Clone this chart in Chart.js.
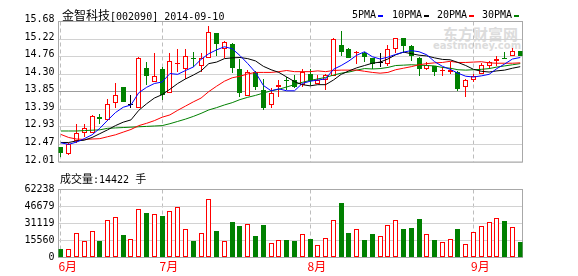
<!DOCTYPE html>
<html lang="zh-CN">
<head>
<meta charset="utf-8">
<title>金智科技[002090] 日K线</title>
<script src="https://cdn.jsdelivr.net/npm/chart.js@4.4.1/dist/chart.umd.min.js"></script>
<style>
  html, body { margin: 0; padding: 0; background: #fff; }
  #stage { position: relative; width: 578px; height: 276px; overflow: hidden; color: #000; }
  .abs { position: absolute; white-space: nowrap; line-height: 12px; }
  .cjk { font-family: "Noto Sans CJK SC", sans-serif; }
  .mono { font-family: "DejaVu Sans Mono", monospace; font-size: 10px; }
  .mark { display: inline-block; width: 5px; height: 2px; margin-left: 2px; vertical-align: 1px; }
  .wm { color: #dcdcdc; font-weight: bold; }
  canvas { position: absolute; left: 0; }
  #priceCanvas { top: 0; }
  #volCanvas { top: 172px; }
</style>
</head>
<body>
<div id="stage">
  <div class="abs wm cjk" style="left:443px; top:26px; font-size:15px; line-height:15px;">东方财富网</div>
  <div class="abs wm" style="left:433px; top:40px; font-size:10px; font-family:'DejaVu Sans', sans-serif;">eastmoney.com</div>

  <canvas id="priceCanvas" width="578" height="172"></canvas>
  <canvas id="volCanvas" width="578" height="104"></canvas>

  <div class="abs" style="left:62px; top:9px;"><span class="cjk" style="font-size:12px;">金智科技</span><span class="mono">[002090] 2014-09-10</span></div>

  <div class="abs mono" style="left:352px; top:9px;">5PMA<span class="mark" style="background:#0000ff"></span></div>
  <div class="abs mono" style="left:392px; top:9px;">10PMA<span class="mark" style="background:#000000"></span></div>
  <div class="abs mono" style="left:437px; top:9px;">20PMA<span class="mark" style="background:#ff0000"></span></div>
  <div class="abs mono" style="left:482px; top:9px;">30PMA<span class="mark" style="background:#008000"></span></div>

  <div class="abs" id="volHeader" style="left:60px; top:172px;"></div>
</div>

<script>
// Daily candles, oldest first
const open = [12.39,12.21,12.56,12.78,12.78,13.19,13.10,13.55,13.97,13.50,
              13.42,14.47,14.10,14.45,13.81,14.56,14.45,14.73,14.51,14.73,
              15.38,14.96,15.09,14.45,13.74,14.36,13.88,13.50,13.96,14.14,
              14.15,14.02,14.30,14.05,14.15,14.26,15.07,14.96,14.86,14.87,
              14.72,14.59,14.58,14.96,15.24,15.03,14.73,14.43,14.51,14.39,
              14.36,14.36,13.96,14.15,14.32,14.53,14.64,14.73,14.79,14.90];
const high = [12.41,12.50,12.99,12.99,13.24,13.26,13.66,14.07,13.98,13.77,
              14.75,14.61,14.85,14.48,14.85,14.96,14.96,14.89,14.87,15.57,
              15.38,15.17,15.11,14.70,14.41,14.38,14.18,13.94,14.14,14.23,
              14.28,14.45,14.45,14.28,14.31,15.24,15.44,14.98,14.90,14.88,
              14.73,14.85,15.06,15.26,15.24,15.07,14.75,14.62,14.53,14.49,
              14.62,14.38,14.17,14.30,14.59,14.66,14.79,14.89,15.00,14.90];
const low  = [12.14,12.20,12.50,12.65,12.78,12.99,13.07,13.41,13.57,13.41,
              13.41,14.02,14.09,13.64,13.80,14.36,14.18,14.49,14.36,14.72,
              14.79,14.72,14.34,13.71,13.73,13.90,13.36,13.43,13.72,13.90,
              13.94,13.98,14.02,14.04,13.90,14.25,14.79,14.72,14.58,14.62,
              14.45,14.49,14.53,14.87,14.87,14.66,14.25,14.41,14.25,14.26,
              14.32,13.87,13.71,14.11,14.30,14.45,14.53,14.70,14.77,14.77];
const close = [12.24,12.47,12.76,12.89,13.22,13.13,13.52,13.75,13.59,13.50,
               14.72,14.25,14.26,13.75,14.64,14.58,14.77,14.71,14.73,15.41,
               15.10,15.15,14.47,13.80,14.36,13.97,13.43,13.81,14.03,14.13,
               13.97,14.36,14.13,14.15,14.28,15.21,14.89,14.73,14.87,14.75,
               14.56,14.59,14.96,15.24,15.04,14.79,14.43,14.55,14.35,14.41,
               14.41,13.92,14.14,14.26,14.55,14.62,14.70,14.71,14.90,14.79];
// Volume in lots (手)
const volume = [8208,8208,22851,15530,24682,14919,34780,36611,21020,17360,
                44817,40546,40241,37800,42986,46343,26512,14919,22851,53976,
                24072,15530,32310,28649,31090,19495,29564,13700,16445,15834,
                14919,21936,16750,11870,18276,34140,49699,22241,26512,15834,
                21326,19495,29564,34140,25902,26817,35054,21326,15834,14003,
                16750,25902,12173,23156,28649,32310,35970,33224,27732,14422];
// Moving averages of the close
const ma5  = [12.51,12.47,12.53,12.62,12.72,12.89,13.10,13.30,13.44,13.50,
              13.82,13.96,14.06,14.10,14.32,14.30,14.40,14.49,14.69,14.84,
              14.94,15.02,14.97,14.79,14.58,14.35,14.01,13.87,13.92,13.87,
              13.87,14.06,14.12,14.15,14.18,14.43,14.53,14.65,14.80,14.89,
              14.76,14.70,14.75,14.82,14.88,14.92,14.89,14.81,14.63,14.51,
              14.43,14.33,14.25,14.23,14.26,14.30,14.45,14.57,14.70,14.74];
const ma10 = [12.52,12.52,12.56,12.58,12.65,12.75,12.85,12.96,13.05,13.11,
              13.36,13.53,13.68,13.77,13.91,14.06,14.18,14.28,14.39,14.58,
              14.62,14.71,14.73,14.74,14.71,14.65,14.51,14.42,14.35,14.23,
              14.11,14.03,14.00,14.03,14.03,14.15,14.30,14.39,14.47,14.53,
              14.59,14.62,14.70,14.81,14.88,14.84,14.80,14.78,14.73,14.69,
              14.68,14.61,14.53,14.43,14.38,14.36,14.39,14.41,14.46,14.50];
const ma20 = [12.73,12.65,12.61,12.60,12.61,12.62,12.67,12.72,12.79,12.86,
              12.96,13.02,13.09,13.18,13.24,13.36,13.47,13.58,13.68,13.85,
              13.99,14.12,14.21,14.25,14.31,14.35,14.35,14.35,14.37,14.40,
              14.37,14.37,14.37,14.39,14.37,14.40,14.41,14.41,14.41,14.38,
              14.35,14.33,14.35,14.42,14.46,14.50,14.55,14.58,14.60,14.61,
              14.64,14.61,14.61,14.62,14.63,14.60,14.59,14.59,14.59,14.60];
const ma30 = [12.82,12.82,12.82,12.83,12.84,12.85,12.89,12.90,12.91,12.92,
              12.93,12.94,12.95,12.96,13.01,13.07,13.13,13.20,13.28,13.37,
              13.43,13.50,13.56,13.64,13.70,13.75,13.81,13.87,13.91,13.97,
              14.03,14.09,14.14,14.18,14.22,14.28,14.33,14.36,14.41,14.45,
              14.44,14.45,14.48,14.53,14.54,14.55,14.54,14.53,14.52,14.48,
              14.46,14.42,14.41,14.42,14.43,14.45,14.49,14.52,14.55,14.58];

// Month boundaries (index of the first session shown in each month)
const monthLabels = ['6月', '7月', '8月', '9月'];
const monthStart  = [0, 13, 32, 53];
const priceTicks  = ['12.01','12.47','12.93','13.39','13.85','14.30','14.76','15.22','15.68'];
const volumeTicks = ['0','15560','31119','46679','62238'];

const RED = '#ff0000', GREEN = '#008000', BLACK = '#000000', BLUE = '#0000ff';
const days = close.map((_, i) => i);
const candleColor = i => close[i] > open[i] ? RED : (close[i] < open[i] ? GREEN : BLACK);
const volumeColor = i => close[i] >= open[i] ? RED : GREEN;

const X_MIN = -0.31, X_MAX = 59.29;
const LABEL_FONT = { family: '"DejaVu Sans Mono", monospace', size: 10 };

// Outer frame of each panel
const framePlugin = {
  id: 'frame',
  beforeDatasetsDraw(chart) {
    const { ctx, chartArea: a } = chart;
    ctx.save();
    ctx.strokeStyle = '#a8a8a8';
    ctx.lineWidth = 1;
    ctx.strokeRect(a.left, a.top, a.right - a.left, a.bottom - a.top);
    ctx.restore();
  }
};

// Keep bar edges on whole device pixels so candles and volume bars stay crisp
const pixelSnap = {
  id: 'pixelSnap',
  afterDatasetsUpdate(chart) {
    chart.data.datasets.forEach((ds, di) => {
      const meta = chart.getDatasetMeta(di);
      if (meta.type !== 'bar') return;
      meta.data.forEach(el => {
        el.x = Math.floor(el.x) + 0.5;
        let top = Math.round(el.y), base = Math.round(el.base);
        if (Math.abs(base - top) < 1) base = top + 1;
        el.y = top;
        el.base = base;
        el.height = base - top;
      });
    });
  }
};

function monthAxis(showLabels) {
  return {
    type: 'linear', min: X_MIN, max: X_MAX, offset: false,
    afterBuildTicks: s => { s.ticks = monthStart.map(v => ({ value: v })); },
    afterFit: s => { s.height = showLabels ? 18.5 : 0; },
    grid: { color: '#bdbdbd', lineWidth: 1, drawTicks: false, offset: false },
    border: { display: false, dash: [4, 3] },
    ticks: {
      display: showLabels, autoSkip: false, maxRotation: 0, minRotation: 0,
      align: 'start', labelOffset: -2.5, padding: 2, color: RED,
      font: { family: '"Noto Sans CJK SC", sans-serif', size: 12 },
      callback: (v, i) => monthLabels[i]
    }
  };
}

function valueAxis(labels, gridColor, labelOffset) {
  return {
    type: 'linear', min: parseFloat(labels[0]), max: parseFloat(labels[labels.length - 1]),
    afterBuildTicks: s => { s.ticks = labels.map(t => ({ value: parseFloat(t) })); },
    afterFit: s => { s.width = 58.5; },
    grid: { drawTicks: false, color: gridColor },
    border: { display: false },
    ticks: { autoSkip: false, padding: 4, labelOffset, color: '#000', font: LABEL_FONT,
             callback: (v, i) => labels[i] }
  };
}

const common = {
  responsive: false, animation: false, devicePixelRatio: 1, events: [],
  plugins: { legend: { display: false }, tooltip: { enabled: false } }
};

const maLine = (label, values, color) => ({
  type: 'line', label, data: days.map(i => ({ x: i, y: values[i] })),
  borderColor: color, borderWidth: 1, pointRadius: 0, tension: 0, fill: false, order: 0
});

new Chart(document.getElementById('priceCanvas'), {
  type: 'bar',
  data: {
    datasets: [
      maLine('MA5', ma5, BLUE),
      maLine('MA10', ma10, BLACK),
      maLine('MA20', ma20, RED),
      maLine('MA30', ma30, GREEN),
      {
        type: 'bar', label: 'body',
        data: days.map(i => ({ x: i, y: [open[i], close[i]] })),
        backgroundColor: days.map(i => candleColor(i) === RED ? '#ffffff' : candleColor(i)),
        borderColor: days.map(candleColor),
        borderWidth: 1, borderSkipped: false, inflateAmount: 0, minBarLength: 1,
        grouped: false, maxBarThickness: 5, order: 1
      },
      {
        type: 'bar', label: 'wick',
        data: days.map(i => ({ x: i, y: [low[i], high[i]] })),
        backgroundColor: days.map(candleColor),
        borderWidth: 0, inflateAmount: 0, grouped: false, maxBarThickness: 1, order: 2
      }
    ]
  },
  options: Object.assign({}, common, {
    layout: { padding: { top: 21.5, right: 55.5, bottom: 6.5, left: 0 } },
    scales: {
      x: monthAxis(false),
      y: valueAxis(priceTicks, c => c.index === 4 ? '#9c9c9c' : '#d2d2d2', -2)
    }
  }),
  plugins: [framePlugin, pixelSnap]
});

new Chart(document.getElementById('volCanvas'), {
  type: 'bar',
  data: {
    datasets: [{
      label: '成交量',
      data: days.map(i => ({ x: i, y: volume[i] })),
      backgroundColor: days.map(i => volumeColor(i) === RED ? '#ffffff' : GREEN),
      borderColor: days.map(volumeColor),
      borderWidth: 1, borderSkipped: false, inflateAmount: 0,
      grouped: false, maxBarThickness: 5
    }]
  },
  options: Object.assign({}, common, {
    layout: { padding: { top: 17.5, right: 55.5, bottom: 0, left: 0 } },
    scales: {
      x: monthAxis(true),
      y: valueAxis(volumeTicks, '#d2d2d2', 0)
    }
  }),
  plugins: [framePlugin, pixelSnap]
});

document.getElementById('volHeader').innerHTML =
  '<span class="cjk" style="font-size:11px;">成交量</span><span class="mono">:' +
  volume[volume.length - 1] + ' </span><span class="cjk" style="font-size:11px;">手</span>';
</script>
</body>
</html>
